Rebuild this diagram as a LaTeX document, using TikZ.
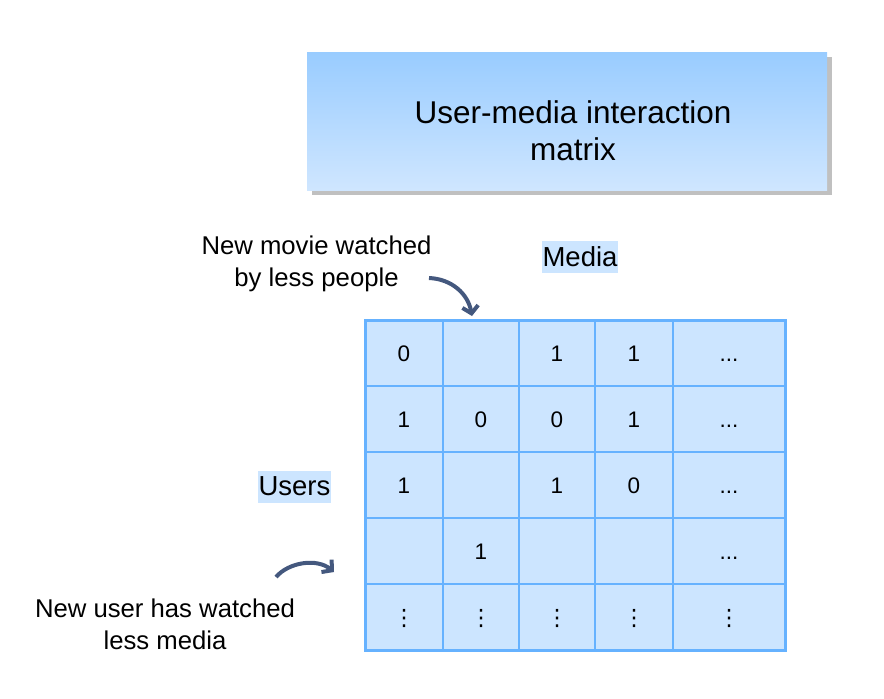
\documentclass[tikz,border=0pt]{standalone}
\usepackage{fontspec}
\setmainfont{Liberation Sans}
\newfontfamily\dejavu{DejaVu Sans}
\usetikzlibrary{matrix,shadows,arrows.meta}
\definecolor{cellblue}{HTML}{CCE5FF}
\definecolor{gridblue}{HTML}{66B2FF}
\definecolor{titletop}{HTML}{99CCFF}
\definecolor{titlebot}{HTML}{CFE6FF}
\definecolor{shadowgray}{HTML}{C0C0C0}
\definecolor{arrowblue}{HTML}{44587E}
\newcommand{\vdotsc}{{\dejavu ⋮}}
\begin{document}
\begin{tikzpicture}[x=1pt,y=-1pt,
  mcell/.style={draw=gridblue,fill=cellblue,line width=2pt,inner sep=0pt,outer sep=0pt,
    minimum height=66pt,text height=16pt,text depth=0pt,font=\fontsize{22.5}{26}\selectfont},
  hilite/.style={fill=cellblue,inner xsep=1pt,inner ysep=0pt,minimum height=32pt,
    font=\fontsize{27.5}{32}\selectfont},
  note/.style={align=center,inner sep=0pt,font=\fontsize{25.7}{32}\selectfont},
  curvy/.style={arrowblue,line width=4pt,-{Straight Barb[length=7pt,width=16pt]}}]
\useasboundingbox (0,0) rectangle (884,699);
% title
\node[minimum width=520pt,minimum height=138pt,top color=titletop,bottom color=titlebot,
  drop shadow={shadow xshift=5pt,shadow yshift=-5pt,fill=shadowgray,opacity=1}] (title) at (567,121) {};
\node[align=center,inner sep=0pt,font=\fontsize{31.5}{37}\selectfont] (titletext) at (573,131)
  {User-media interaction\\matrix};
% axis labels
\node[hilite] (media) at (580,257) {Media};
\node[hilite] (users) at (294.5,486.5) {Users};
% matrix
\matrix (M) [matrix of nodes,nodes in empty cells,anchor=north west,inner sep=0pt,outer sep=0pt,
  column sep=-2pt,row sep=-2pt,nodes={mcell},
  column 1/.style={nodes={minimum width=78pt}},
  column 2/.style={nodes={minimum width=76pt}},
  column 3/.style={nodes={minimum width=76pt}},
  column 4/.style={nodes={minimum width=78pt}},
  column 5/.style={nodes={minimum width=112pt}}] at (364,319) {
  0 &   & 1 & 1 & ... \\
  1 & 0 & 0 & 1 & ... \\
  1 &   & 1 & 0 & ... \\
    & 1 &   &   & ... \\
  \vdotsc & \vdotsc & \vdotsc & \vdotsc & \vdotsc \\
};
\draw[gridblue,line width=3pt] (M-1-1.north west) rectangle (M-5-5.south east);
% notes
\node[note] (newmovie) at (316.5,264) {New movie watched\\by less people};
\node[note] (newuser) at (165,624.5) {New user has watched\\less media};
\coordinate (m0) at (429,278);
\coordinate (m1) at (472,316);
\draw[curvy] (m0) .. controls (452,279) and (468,294) .. (m1);
\coordinate (u0) at (276,577);
\coordinate (u1) at (334,572);
\draw[curvy] (u0) .. controls (289,562) and (317,558) .. (u1);
\end{tikzpicture}
\end{document}
